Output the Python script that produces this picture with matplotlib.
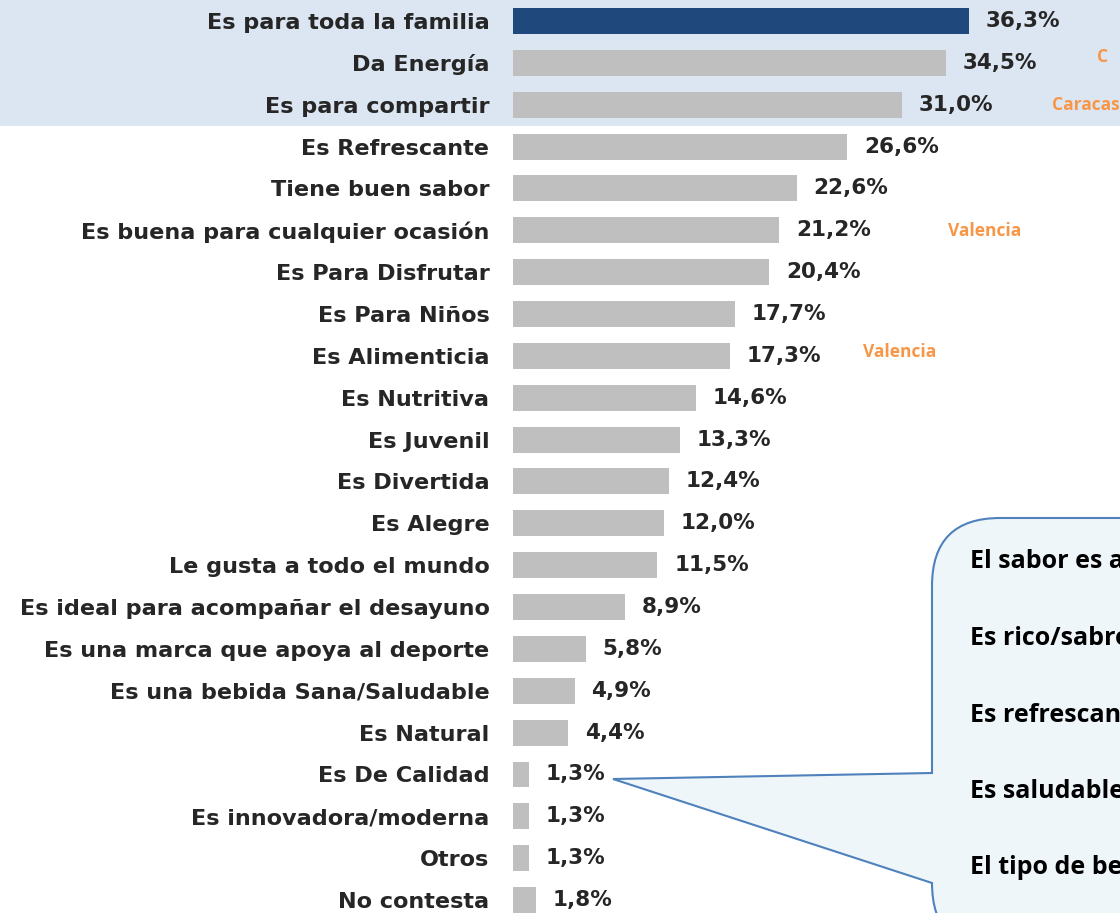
import matplotlib.pyplot as plt
from matplotlib.patches import Rectangle, PathPatch
from matplotlib.path import Path
from matplotlib.transforms import Affine2D

# data
categories = [
    "Es para toda la familia", "Da Energía", "Es para compartir", "Es Refrescante",
    "Tiene buen sabor", "Es buena para cualquier ocasión", "Es Para Disfrutar",
    "Es Para Niños", "Es Alimenticia", "Es Nutritiva", "Es Juvenil", "Es Divertida",
    "Es Alegre", "Le gusta a todo el mundo", "Es ideal para acompañar el desayuno",
    "Es una marca que apoya al deporte", "Es una bebida Sana/Saludable", "Es Natural",
    "Es De Calidad", "Es innovadora/moderna", "Otros", "No contesta",
]
values = [36.3, 34.5, 31.0, 26.6, 22.6, 21.2, 20.4, 17.7, 17.3, 14.6, 13.3, 12.4,
          12.0, 11.5, 8.9, 5.8, 4.9, 4.4, 1.3, 1.3, 1.3, 1.8]
callout_lines = ["El sabor es agradable", "Es rico/sabroso", "Es refrescante",
                 "Es saludable", "El tipo de bebida"]
city_notes = [("C", 1097, 57), ("Caracas", 1052, 105),
              ("Valencia", 948, 231), ("Valencia", 863, 352)]

W, H = 1120, 913
fig = plt.figure(figsize=(W / 100, H / 100), dpi=100)
# pixel coords measured from the top-left of the image
px = Affine2D().scale(1 / W, -1 / H).translate(0, 1) + fig.transFigure

# light blue band behind the top three rows
fig.add_artist(Rectangle((0, 0), W, 126, transform=px, facecolor="#DCE6F2",
                         edgecolor="none", zorder=-1))

ax = fig.add_axes([513 / W, 0, 607 / W, 1])
ax.patch.set_visible(False)
row = 41.86
ax.set_ylim((H - 21) / row, -21 / row)
ax.set_xlim(0, 607 / 12.56)

ypos = list(range(len(categories)))
colors = ["#1F497D"] + ["#BFBFBF"] * (len(categories) - 1)
ax.barh(ypos, values, height=0.62, color=colors)

txt = "#262626"
font = "DejaVu Sans"
for y, v in zip(ypos, values):
    ax.annotate(f"{v:.1f}%".replace(".", ","), (v, y), xytext=(12, 0),
                textcoords="offset points", va="center", ha="left",
                fontsize=15.5, fontweight="bold", color=txt, family=font)

ax.set_yticks(ypos)
ax.set_yticklabels(categories, fontsize=16.1, fontweight="bold", color=txt, family=font)
ax.tick_params(axis="y", length=0, pad=17)
ax.set_xticks([])
for s in ax.spines.values():
    s.set_visible(False)

for label, x, y in city_notes:
    fig.text(x, y, label, transform=px, ha="left", va="center", fontsize=12.5,
             fontweight="bold", color="#F79646", family="Open Sans")

# callout box with pointer
verts = [(613, 779), (932, 773), (932, 586), (932, 518), (1000, 518),
         (1130, 518), (1130, 1000), (1000, 951), (932, 951), (932, 883), (613, 779)]
codes = [Path.MOVETO, Path.LINETO, Path.LINETO, Path.CURVE3, Path.CURVE3,
         Path.LINETO, Path.LINETO, Path.LINETO, Path.CURVE3, Path.CURVE3, Path.CLOSEPOLY]
fig.add_artist(PathPatch(Path(verts, codes), transform=px, facecolor="#EEF6FA",
                         edgecolor="#4F81BD", linewidth=1.5, zorder=5))
for i, line in enumerate(callout_lines):
    fig.text(970, 562 + i * 76.5, line, transform=px, ha="left", va="center",
             fontsize=18, fontweight="bold", color="black", family="Open Sans", zorder=6)

fig.savefig("out.png", dpi=100)
